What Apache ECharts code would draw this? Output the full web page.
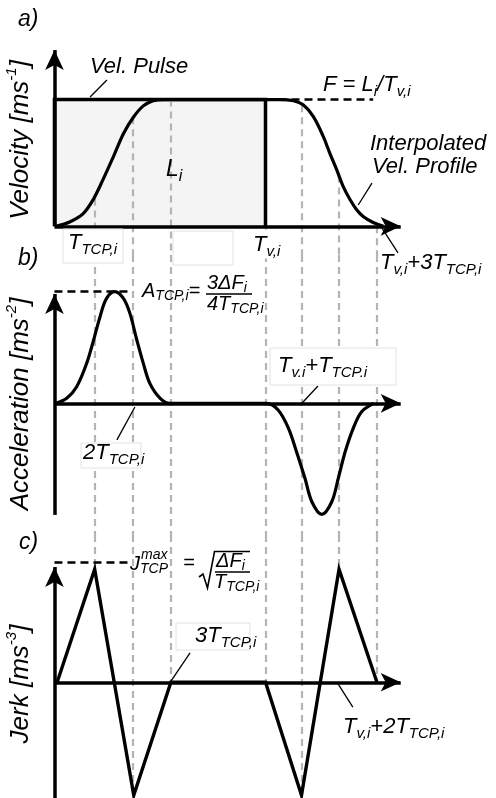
<!DOCTYPE html>
<html><head><meta charset="utf-8">
<script src="https://cdn.jsdelivr.net/npm/echarts@6/dist/echarts.min.js"></script>
<style>html,body{margin:0;padding:0;background:#fff}#c{width:496px;height:798px}</style>
</head><body><div id="c"></div>
<script>
// ---------- data (time in units of T_TCP,i) ----------
const GUIDE_T    = [1, 2, 3, 5.47, 6.41, 7.39, 8.38];
const GUIDE_VEL  = [0.22, 0.86, 1.0, 0, 0.955, 0.40, 0];
const GUIDE_JERK = [1, -1, 0, 0, -1, 1, 0];

const PULSE_T = [-0.04, -0.04, 5.47, 5.47];
const PULSE_V = [0, 1, 1, 0];

const VEL_T = [0, 0.37, 0.71, 0.97, 1.23, 1.50, 1.76, 2.02, 2.28, 2.54, 2.80, 3.0,
               5.47, 5.85, 6.20, 6.46, 6.72, 6.98, 7.15, 7.33, 7.50, 7.68, 7.85, 8.02, 8.28, 8.55];
const VEL_V = [0, 0.036, 0.10, 0.21, 0.37, 0.55, 0.73, 0.86, 0.95, 0.99, 1.0, 1.0,
               1.0, 1.0, 0.99, 0.957, 0.865, 0.707, 0.576, 0.445, 0.313, 0.209, 0.13, 0.077, 0.03, 0.0];

const ACC_T = [0, 0.28, 0.54, 0.80, 0.97, 1.15, 1.32, 1.54, 1.76, 1.93, 2.11, 2.28, 2.45, 2.72, 2.98,
               5.50, 5.80, 6.07, 6.28, 6.50, 6.68, 6.94, 7.20, 7.37, 7.55, 7.76, 7.98, 8.30];
const ACC_V = [0, 0.045, 0.149, 0.358, 0.552, 0.776, 0.94, 1.0, 0.94, 0.806, 0.567, 0.358, 0.179, 0.045, 0,
               0, -0.06, -0.224, -0.434, -0.672, -0.882, -0.995, -0.882, -0.672, -0.434, -0.224, -0.075, 0];

const JERK_T = [0.03, 1.01, 2.03, 3.0, 5.47, 6.41, 7.39, 8.38];
const JERK_V = [0, 1, -1, 0, 0, -1, 1, 0];

// reference (dashed) levels: [from t, to t, level]
const REF_VEL  = [5.47, 8.28, 1.0];
const REF_ACC  = [-0.04, 1.88, 1.0];
const REF_JERK = [-0.04, 1.88, 1.06];

// leader lines: [[t1,y1],[t2,y2]]
const LEAD_VEL  = [[[0.89, 1.02], [1.33, 1.154]], [[7.89, 0.168], [8.25, 0.341]], [[8.46, 0.01], [8.93, -0.21]]];
const LEAD_ACC  = [[[6.42, 0], [6.84, 0.155]], [[2.06, -0.033], [1.59, -0.328]]];
const LEAD_JERK = [[[2.98, 0], [3.50, 0.26]], [[7.34, 0], [7.75, -0.22]]];

// axis extents
const AXIS_T0 = -0.04, AXIS_T1 = 9.0;
const AXIS_Y0 = [0, -1.0, -1.024];
const AXIS_Y1 = [1.39, 0.98, 1.02];

// ---------- layout ----------
const X_RANGE = [-1.462, 11.488];
const Y_RANGE = [[-0.2263, 1.785], [-1.180, 1.329], [-1.024, 1.3035]];
const GRID_TOP = [0, 255, 535], GRID_H = [255, 280, 263];
const FONT = '"Liberation Sans", Arial, Helvetica, sans-serif';

const pairs = (xs, ys) => xs.map((x, i) => [x, ys[i]]);
const base = gi => ({type: 'line', xAxisIndex: gi, yAxisIndex: gi, symbol: 'none', silent: true, animation: false});

function guides(gi, tops, bottoms) {
  return Object.assign(base(gi), {
    data: [], z: 2,
    markLine: {silent: true, animation: false, symbol: ['none', 'none'], label: {show: false},
      lineStyle: {color: '#b4b4b4', width: 2.2, type: [7, 5]},
      emphasis: {disabled: true},
      data: GUIDE_T.map((t, i) => [{coord: [t, tops[i]]}, {coord: [t, bottoms[i]]}])}
  });
}
function axes(gi) {
  return Object.assign(base(gi), {
    data: [], z: 6,
    markLine: {silent: true, animation: false, symbol: ['none', 'arrow'], symbolSize: [14, 20], label: {show: false},
      lineStyle: {color: '#000', width: 3.5, type: 'solid'}, emphasis: {disabled: true},
      data: [[{coord: [AXIS_T0, 0]}, {coord: [AXIS_T1, 0]}],
             [{coord: [AXIS_T0, AXIS_Y0[gi]]}, {coord: [AXIS_T0, AXIS_Y1[gi]]}]]}
  });
}
function refLine(gi, r) {
  return Object.assign(base(gi), {
    data: [], z: 3,
    markLine: {silent: true, animation: false, symbol: ['none', 'none'], label: {show: false},
      lineStyle: {color: '#000', width: 2.6, type: [8, 5]}, emphasis: {disabled: true},
      data: [[{coord: [r[0], r[2]]}, {coord: [r[1], r[2]]}]]}
  });
}
function leaders(gi, L) {
  return Object.assign(base(gi), {
    data: [], z: 6,
    markLine: {silent: true, animation: false, symbol: ['none', 'none'], label: {show: false},
      lineStyle: {color: '#000', width: 1.3, type: 'solid'}, emphasis: {disabled: true},
      data: L.map(s => [{coord: s[0]}, {coord: s[1]}])}
  });
}

const series = [
  Object.assign(base(0), {data: pairs(PULSE_T, PULSE_V), z: 1, lineStyle: {width: 0}, areaStyle: {color: '#f4f4f4', opacity: 1}}),
  guides(0, GUIDE_VEL, GUIDE_T.map(() => Y_RANGE[0][0])),
  Object.assign(base(0), {data: pairs(PULSE_T, PULSE_V), z: 4, lineStyle: {color: '#000', width: 3.5, join: 'miter'}}),
  refLine(0, REF_VEL),
  Object.assign(base(0), {data: pairs(VEL_T, VEL_V), z: 5, smooth: 0.35, lineStyle: {color: '#000', width: 3.2}}),
  axes(0), leaders(0, LEAD_VEL),

  guides(1, GUIDE_T.map(() => Y_RANGE[1][1]), GUIDE_T.map(() => Y_RANGE[1][0])),
  refLine(1, REF_ACC),
  Object.assign(base(1), {data: pairs(ACC_T, ACC_V), z: 5, smooth: 0.35, lineStyle: {color: '#000', width: 3.2}}),
  axes(1), leaders(1, LEAD_ACC),

  guides(2, GUIDE_T.map(() => Y_RANGE[2][1]), GUIDE_JERK),
  refLine(2, REF_JERK),
  Object.assign(base(2), {data: pairs(JERK_T, JERK_V), z: 5, lineStyle: {color: '#000', width: 3.4, join: 'miter'}}),
  axes(2), leaders(2, LEAD_JERK)
];

// ---------- text ----------
const tok = (size, lh, pad) => {
  const o = {fontFamily: FONT, fontStyle: 'italic', fontSize: size, lineHeight: lh, fill: '#000'};
  if (pad) o.padding = pad;
  return o;
};
const RICH = {
  m: tok(22, 30), s: tok(15, 30, [14, 0, 0, 0]),
  fm: tok(20, 26), fs: tok(14, 26, [11, 0, 0, 0]), fx: tok(14, 26),
  L: tok(23, 30), Ls: tok(16, 30, [14, 0, 0, 0]),
  ax: tok(26, 32), sup: tok(15, 32, [0, 0, 18, 0]),
  p: tok(23, 30)
};
const T = (x, y, text, extra) => ({
  type: 'text', x, y, z: 100, silent: true,
  style: Object.assign({text, rich: RICH, align: 'left', verticalAlign: 'middle', textAlign: 'left', textVerticalAlign: 'middle',
    fontFamily: FONT, fontStyle: 'italic', fontSize: 22, fill: '#000'}, extra || {})
});
const AX = (x, y, text) => Object.assign(T(x, y, text, {align: 'center', textAlign: 'center'}), {rotation: Math.PI / 2});
const BOX = (x, y, w, h, stroke) => ({type: 'rect', z: 90, silent: true, shape: {x, y, width: w, height: h},
  style: {fill: '#fff', stroke: stroke || '#e2e2e2', lineWidth: 1}});
const LN = (x1, y1, x2, y2, w) => ({type: 'line', z: 100, silent: true, shape: {x1, y1, x2, y2}, style: {stroke: '#000', lineWidth: w || 1.5}});

const graphic = [
  T(18, 20, '{p|a)}'), T(18, 259, '{p|b)}'), T(19, 543, '{p|c)}'),
  AX(21, 140, '{ax|Velocity [ms}{sup|-1}{ax|]}'),
  AX(21, 404, '{ax|Acceleration [ms}{sup|-2}{ax|]}'),
  AX(21, 684, '{ax|Jerk [ms}{sup|-3}{ax|]}'),
  T(90, 67, '{m|Vel. Pulse}'),
  T(323, 85, '{m|F = L}{s|i}{m|/T}{s|v,i}'),
  T(370, 144, '{m|Interpolated}'),
  T(372, 167, '{m|Vel. Profile}'),
  T(166, 170, '{L|L}{Ls|i}'),
  BOX(63, 229, 60, 34), T(68, 243, '{m|T}{s|TCP,i}'),
  BOX(173, 231, 60, 34),
  BOX(251, 230, 32, 28, '#fff'), T(253, 245, '{m|T}{s|v,i}'),
  T(380, 263, '{m|T}{s|v,i}{m|+3T}{s|TCP,i}'),
  // A formula
  T(142, 291, '{fm|A}{fs|TCP,i}{fm|=}'),
  T(207, 283, '{fm|3ΔF}{fs|i}'),
  LN(206, 294, 252, 294, 1.6),
  T(207, 304, '{fm|4T}{fs|TCP,i}'),
  BOX(270, 348, 126, 37), T(278, 366, '{m|T}{s|v.i}{m|+T}{s|TCP.i}'),
  BOX(81, 443, 60, 25), T(83, 453, '{m|2T}{s|TCP,i}'),
  // J formula
  T(130, 564, '{fm|J}'),
  T(141, 555, '{fx|max}'),
  T(140, 569, '{fx|TCP}'),
  T(183, 563, '{fm|=}'),
  {type: 'polyline', z: 100, silent: true, shape: {points: [[199, 577], [203, 574], [207.5, 588], [214.5, 551.5], [250, 551.5]]},
    style: {stroke: '#000', fill: null, lineWidth: 1.6}},
  T(216, 561, '{fm|ΔF}{fs|i}'),
  LN(215, 572, 250, 572, 1.6),
  T(214, 582, '{fm|T}{fs|TCP,i}'),
  BOX(176, 623, 74, 27), T(195, 636, '{m|3T}{s|TCP,i}'),
  T(343, 727, '{m|T}{s|v,i}{m|+2T}{s|TCP,i}')
];

const chart = echarts.init(document.getElementById('c'), null, {renderer: 'canvas'});
chart.setOption({
  animation: false,
  backgroundColor: '#fff',
  grid: GRID_TOP.map((t, i) => ({left: 0, right: 0, top: t, height: GRID_H[i], containLabel: false, outerBoundsMode: 'none'})),
  xAxis: [0, 1, 2].map(i => ({type: 'value', gridIndex: i, min: X_RANGE[0], max: X_RANGE[1], show: false})),
  yAxis: [0, 1, 2].map(i => ({type: 'value', gridIndex: i, min: Y_RANGE[i][0], max: Y_RANGE[i][1], show: false})),
  series,
  graphic
});
</script></body></html>
